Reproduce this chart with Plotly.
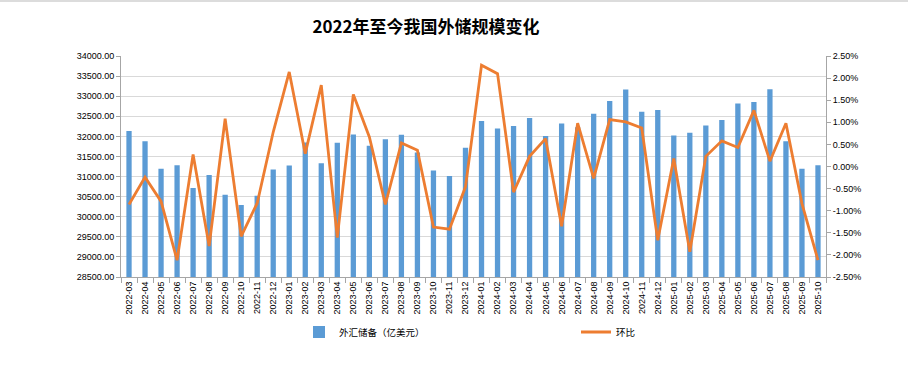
import plotly.graph_objects as go

# ---------------- data ----------------
months = [
    "2022-03", "2022-04", "2022-05", "2022-06", "2022-07", "2022-08", "2022-09", "2022-10",
    "2022-11", "2022-12", "2023-01", "2023-02", "2023-03", "2023-04", "2023-05", "2023-06",
    "2023-07", "2023-08", "2023-09", "2023-10", "2023-11", "2023-12", "2024-01", "2024-02",
    "2024-03", "2024-04", "2024-05", "2024-06", "2024-07", "2024-08", "2024-09", "2024-10",
    "2024-11", "2024-12", "2025-01", "2025-02", "2025-03", "2025-04", "2025-05", "2025-06",
    "2025-07", "2025-08", "2025-09", "2025-10",
]

# 外汇储备（亿美元）
reserves = [
    32133, 31880, 31197, 31278, 30713, 31041, 30549, 30290,
    30524, 31175, 31277, 31845, 31332, 31839, 32048, 31765,
    31930, 32043, 31601, 31151, 31012, 31718, 32380, 32193,
    32258, 32457, 32008, 32320, 32224, 32564, 32882, 33164,
    32611, 32659, 32024, 32090, 32272, 32407, 32817, 32853,
    33174, 31880, 31197, 31278,
]

# 环比 (%)
mom_pct = [
    -0.86, -0.24, -0.79, -2.12, 0.27, -1.80, 1.08, -1.58,
    -0.83, 0.78, 2.14, 0.29, 1.84, -1.61, 1.63, 0.67,
    -0.86, 0.53, 0.37, -1.37, -1.42, -0.46, 2.29, 2.10,
    -0.58, 0.23, 0.63, -1.35, 0.98, -0.27, 1.06, 1.01,
    0.87, -1.67, 0.18, -1.93, 0.23, 0.58, 0.43, 1.27,
    0.12, 0.98, -0.84, -2.12,
]

left_range = [28500, 34000]
right_tick_vals = [-2.5, -2.0, -1.5, -1.0, -0.5, 0.0, 0.5, 1.0, 1.5, 2.0, 2.5]
right_tick_text = ["-2.50%", "-2.00%", "-1.50%", "-1.00%", "-0.50%", "0.00%",
                   "0.50%", "1.00%", "1.50%", "2.00%", "2.50%"]

title_text = "2022年至今我国外储规模变化"
bar_name = "外汇储备（亿美元）"
line_name = "环比"

# ---------------- styling ----------------
BLUE = "#5B9BD5"
ORANGE = "#ED7D31"
GRID = "#D9D9D9"
AXIS = "#A6A6A6"
FONT = "Liberation Sans, Noto Sans CJK SC, sans-serif"

W, H = 908, 366
ML, MR, MT, MB = 121, 82, 56, 89
PW, PH = W - ML - MR, H - MT - MB

fig = go.Figure()

fig.add_trace(go.Bar(
    x=months, y=reserves, name=bar_name,
    marker=dict(color=BLUE, line=dict(width=0)),
    yaxis="y", legend="legend",
))

fig.add_trace(go.Scatter(
    x=months, y=mom_pct, name=line_name, mode="lines",
    line=dict(color=ORANGE, width=2.8),
    yaxis="y2", legend="legend2",
))

def px_to_paper_x(px):
    return (px - ML) / PW

def px_to_paper_y(py):
    return (MT + PH - py) / PH

fig.update_layout(
    width=W, height=H,
    margin=dict(l=ML, r=MR, t=MT, b=MB, pad=0, autoexpand=False),
    paper_bgcolor="white", plot_bgcolor="white",
    font=dict(family=FONT, size=9, color="#000000"),
    bargap=0.67,
    title=dict(
        text="<b>" + title_text + "</b>",
        font=dict(family="Noto Sans CJK SC, sans-serif", size=17, color="#000000"),
        x=426 / W, xref="container", xanchor="center",
        y=1 - 27 / H, yref="container", yanchor="middle",
    ),
    xaxis=dict(
        type="category",
        tickangle=-90,
        ticks="outside", ticklen=5, tickcolor=AXIS, tickson="boundaries",
        showline=True, linecolor=AXIS, linewidth=1,
        showgrid=False,
        tickfont=dict(size=9, family=FONT, color="#000000"),
        range=[-0.5, len(months) - 0.5],
    ),
    yaxis=dict(
        range=left_range, dtick=500, tick0=28500,
        tickformat=".2f",
        ticks="outside", ticklen=4, tickcolor=AXIS,
        showline=True, linecolor=AXIS, linewidth=1,
        showgrid=True, gridcolor=GRID, gridwidth=1,
        zeroline=False,
        tickfont=dict(size=9, family=FONT, color="#000000"),
    ),
    yaxis2=dict(
        overlaying="y", side="right",
        range=[-2.5, 2.5],
        tickvals=right_tick_vals, ticktext=right_tick_text,
        ticks="outside", ticklen=4, tickcolor=AXIS,
        showline=True, linecolor=AXIS, linewidth=1,
        showgrid=False, zeroline=False,
        tickfont=dict(size=9, family=FONT, color="#000000"),
    ),
    legend=dict(
        orientation="h",
        x=px_to_paper_x(299), xanchor="left",
        y=px_to_paper_y(332), yanchor="middle",
        font=dict(size=9.5, family=FONT, color="#000000"),
        bgcolor="rgba(0,0,0,0)",
    ),
    legend2=dict(
        orientation="h",
        x=px_to_paper_x(576), xanchor="left",
        y=px_to_paper_y(332), yanchor="middle",
        font=dict(size=9.5, family=FONT, color="#000000"),
        bgcolor="rgba(0,0,0,0)",
    ),
    shapes=[dict(
        type="line", xref="paper", yref="paper",
        x0=px_to_paper_x(0), x1=px_to_paper_x(W),
        y0=px_to_paper_y(1), y1=px_to_paper_y(1),
        line=dict(color="#D0D0D0", width=1.5),
    )],
    showlegend=True,
)

fig.write_html(
    "out.html",
    config={"displayModeBar": False},
    post_script="document.body.style.margin='0';document.body.style.padding='0';"
                "document.documentElement.style.overflow='hidden';",
)
